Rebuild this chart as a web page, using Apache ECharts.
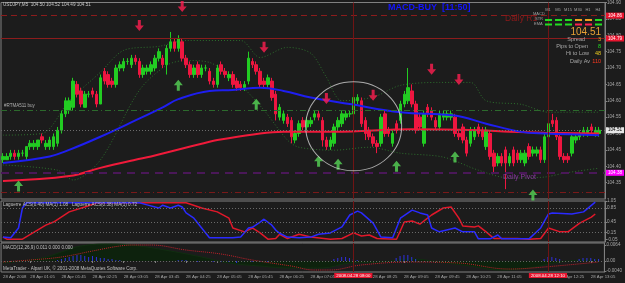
<!DOCTYPE html>
<html><head><meta charset="utf-8">
<script src="https://cdn.jsdelivr.net/npm/echarts@6/dist/echarts.min.js"></script>
<style>html,body{margin:0;padding:0;background:#1c1c1c}#c{width:625px;height:283px}</style>
</head><body><div id="c"></div>
<script>
// ---- DATA ----
// OHLC per 5-minute bar: [open, close, low, high]
const ohlc = [
[104.42,104.43,104.41,104.44],[104.42,104.43,104.42,104.44],[104.43,104.44,104.42,104.45],[104.44,104.43,104.42,104.45],
[104.43,104.44,104.42,104.45],[104.44,104.44,104.43,104.45],[104.43,104.46,104.42,104.46],[104.46,104.47,104.45,104.48],
[104.46,104.47,104.45,104.48],[104.46,104.48,104.45,104.48],[104.49,104.48,104.47,104.50],[104.46,104.47,104.45,104.48],
[104.46,104.48,104.45,104.49],[104.46,104.49,104.45,104.50],[104.47,104.51,104.46,104.52],[104.51,104.56,104.50,104.57],
[104.56,104.60,104.55,104.61],[104.57,104.60,104.56,104.61],[104.58,104.66,104.57,104.67],[104.65,104.62,104.61,104.66],
[104.63,104.59,104.58,104.64],[104.58,104.62,104.58,104.63],[104.62,104.62,104.61,104.63],[104.63,104.62,104.61,104.64],
[104.62,104.59,104.58,104.63],[104.59,104.67,104.59,104.68],[104.69,104.66,104.65,104.70],[104.68,104.65,104.64,104.69],
[104.66,104.65,104.64,104.67],[104.65,104.70,104.64,104.71],[104.70,104.71,104.69,104.72],[104.70,104.72,104.69,104.73],
[104.72,104.72,104.71,104.73],[104.71,104.73,104.70,104.74],[104.73,104.72,104.71,104.74],[104.72,104.68,104.67,104.73],
[104.68,104.70,104.67,104.71],[104.69,104.70,104.68,104.71],[104.69,104.71,104.68,104.72],[104.70,104.73,104.69,104.74],
[104.73,104.75,104.72,104.76],[104.73,104.71,104.70,104.74],[104.71,104.76,104.68,104.77],[104.76,104.78,104.75,104.81],
[104.78,104.76,104.75,104.79],[104.76,104.79,104.75,104.80],[104.78,104.73,104.72,104.79],[104.73,104.71,104.70,104.74],
[104.71,104.68,104.67,104.72],[104.68,104.70,104.67,104.71],[104.71,104.68,104.67,104.72],[104.68,104.70,104.67,104.71],
[104.70,104.70,104.69,104.71],[104.69,104.66,104.65,104.70],[104.66,104.65,104.64,104.67],[104.65,104.70,104.64,104.71],
[104.71,104.69,104.68,104.72],[104.69,104.68,104.67,104.70],[104.67,104.68,104.66,104.69],[104.68,104.65,104.64,104.69],
[104.66,104.64,104.63,104.67],[104.65,104.64,104.63,104.66],[104.64,104.65,104.63,104.66],[104.66,104.73,104.65,104.75],
[104.72,104.71,104.70,104.73],[104.71,104.69,104.68,104.72],[104.69,104.65,104.64,104.70],[104.66,104.65,104.64,104.67],
[104.65,104.67,104.64,104.68],[104.66,104.61,104.60,104.67],[104.62,104.56,104.54,104.63],[104.55,104.58,104.54,104.59],
[104.54,104.56,104.53,104.57],[104.55,104.53,104.52,104.56],[104.54,104.49,104.47,104.55],[104.48,104.50,104.47,104.51],
[104.50,104.53,104.49,104.54],[104.54,104.52,104.51,104.55],[104.52,104.54,104.51,104.55],[104.53,104.54,104.52,104.55],
[104.55,104.56,104.54,104.57],[104.56,104.55,104.54,104.57],[104.54,104.48,104.46,104.55],[104.48,104.46,104.45,104.49],
[104.46,104.48,104.45,104.49],[104.47,104.52,104.46,104.53],[104.52,104.54,104.51,104.55],[104.53,104.56,104.52,104.57],
[104.55,104.56,104.54,104.57],[104.56,104.56,104.55,104.57],[104.56,104.61,104.55,104.62],[104.60,104.61,104.59,104.62],
[104.60,104.53,104.52,104.61],[104.54,104.50,104.48,104.55],[104.51,104.49,104.48,104.52],[104.49,104.47,104.46,104.50],
[104.47,104.46,104.44,104.48],[104.47,104.55,104.46,104.56],[104.56,104.50,104.49,104.57],[104.51,104.50,104.49,104.52],
[104.47,104.50,104.46,104.51],[104.53,104.51,104.50,104.54],[104.54,104.59,104.53,104.60],[104.59,104.62,104.58,104.63],
[104.60,104.64,104.59,104.70],[104.63,104.59,104.58,104.65],[104.59,104.51,104.50,104.60],[104.55,104.52,104.51,104.56],
[104.47,104.56,104.46,104.57],[104.58,104.56,104.55,104.59],[104.57,104.55,104.54,104.58],[104.54,104.52,104.51,104.55],
[104.52,104.56,104.51,104.57],[104.55,104.56,104.54,104.57],[104.55,104.56,104.54,104.57],[104.55,104.56,104.54,104.57],
[104.55,104.50,104.49,104.56],[104.50,104.49,104.48,104.51],[104.52,104.48,104.47,104.53],[104.48,104.44,104.43,104.49],
[104.47,104.51,104.46,104.52],[104.49,104.51,104.48,104.52],[104.52,104.50,104.49,104.53],[104.51,104.49,104.48,104.52],
[104.46,104.51,104.45,104.52],[104.50,104.43,104.42,104.51],[104.44,104.40,104.38,104.45],[104.41,104.43,104.40,104.44],
[104.43,104.41,104.40,104.44],[104.45,104.41,104.33,104.46],[104.41,104.43,104.40,104.44],[104.45,104.41,104.40,104.46],
[104.44,104.42,104.41,104.45],[104.42,104.44,104.41,104.45],[104.41,104.44,104.40,104.45],[104.46,104.43,104.42,104.47],
[104.44,104.45,104.43,104.46],[104.44,104.45,104.43,104.46],[104.45,104.42,104.41,104.46],[104.42,104.49,104.41,104.50],
[104.49,104.53,104.48,104.55],[104.54,104.53,104.52,104.56],[104.54,104.49,104.48,104.55],[104.49,104.43,104.42,104.50],
[104.43,104.42,104.41,104.44],[104.43,104.42,104.41,104.44],[104.44,104.49,104.43,104.50],[104.48,104.49,104.47,104.50],
[104.49,104.50,104.48,104.51],[104.50,104.51,104.49,104.52],[104.50,104.51,104.49,104.52],[104.52,104.51,104.50,104.53],
[104.50,104.51,104.49,104.52],[104.50,104.51,104.49,104.52]
];
// moving averages [barIndex, price]
const maBlue = [[0,104.41],[12,104.43],[17,104.45],[25,104.49],[34,104.54],[41,104.58],[45,104.605],[53,104.63],[59,104.633],[66,104.64],[72,104.63],[79,104.61],[89,104.59],[102,104.565],[116,104.555],[124,104.53],[133,104.505],[139,104.50],[153,104.495]];
const maRed = [[0,104.355],[17,104.37],[25,104.395],[34,104.42],[38,104.43],[53,104.475],[55,104.48],[66,104.50],[72,104.505],[85,104.505],[105,104.513],[122,104.51],[130,104.505],[139,104.502],[153,104.50]];
const bandUpper = [[0,104.495],[10,104.50],[17,104.60],[25,104.687],[31,104.754],[40,104.766],[47,104.784],[61,104.784],[66,104.732],[73,104.763],[79,104.745],[83,104.672],[87,104.60],[95,104.611],[102,104.647],[112,104.656],[120,104.656],[124,104.60],[133,104.589],[140,104.565],[153,104.565]];
const bandLower = [[0,104.404],[14,104.388],[18,104.358],[25,104.419],[35,104.632],[42,104.708],[47,104.723],[53,104.717],[61,104.647],[67,104.571],[73,104.48],[76,104.458],[85,104.449],[94,104.458],[102,104.44],[113,104.428],[122,104.388],[130,104.364],[139,104.367],[144,104.379],[153,104.394]];
const sellArrows = [[35,104.83],[46,104.888],[67,104.763],[83,104.607],[95,104.617],[110,104.696],[117,104.665]];
const buyArrows = [[4,104.34],[45,104.647],[65,104.589],[81,104.415],[86,104.406],[101,104.40],[116,104.428],[136,104.312]];
const circleMark = [[90,104.522]];
const priceLevels = {r1:104.86, res:104.79, rtma:104.57, bid:104.51, pivot:104.38, s1:104.32};
// Laguerre panel
const lagBlue = [[0,0.02],[2,0],[4,0.28],[5,0.85],[6,1],[35,1],[37,0.94],[40,0.85],[41,0.93],[43,0.85],[45,0.93],[46,0.88],[47,0.71],[49,0.56],[51,0.28],[53,0],[59,0],[61,0.02],[63,0.28],[64,0.3],[66,0.45],[67,0.53],[69,0.36],[70,0.22],[71,0.13],[73,0.02],[76,0],[79,0.02],[81,0.1],[84,0.14],[87,0.31],[89,0.65],[91,0.76],[92,0.71],[95,0.42],[97,0.02],[100,0],[102,0.56],[105,0.79],[107,0.71],[109,0.65],[110,0.28],[112,0.17],[116,0.28],[118,0.17],[121,0.17],[122,-0.03],[125,-0.03],[127,0.08],[128,-0.03],[135,-0.03],[138,0.28],[140,0.68],[141,0.71],[146,0.68],[149,0.74],[152,1.02]];
const lagRed = [[0,0.02],[1,-0.04],[5,-0.04],[8,0.16],[11,0.36],[13,0.45],[17,0.74],[21,0.88],[24,0.99],[26,1],[47,1],[51,0.85],[55,0.74],[58,0.56],[59,0.28],[62,0.17],[64,0.28],[66,0.14],[68,-0.04],[70,-0.02],[71,0.1],[73,-0.02],[76,0.1],[79,0.02],[84,-0.04],[87,-0.02],[90,0.14],[92,0.05],[94,0.08],[96,-0.02],[101,-0.04],[103,0.45],[105,0.48],[107,0.39],[110,0.65],[113,0.85],[115,0.88],[117,0.56],[118,0.34],[121,0.31],[122,0.34],[124,0.17],[126,-0.02],[129,-0.02],[132,-0.02],[135,-0.04],[138,-0.02],[140,0.28],[143,0.17],[145,0.17],[148,0.42],[151,0.59],[152,0.68]];
const lagLevels = [0.85,0.45,0.15];
const lagTicks = [-0.05,0.15,0.45,0.85,1.05];
// MACD panel
const macdMain = [[0,-0.0008],[10,0.0012],[15,0.0036],[20,0.006],[28,0.0068],[35,0.006],[43,0.004],[51,0.0016],[58,-0.0008],[66,-0.002],[74,-0.0028],[82,-0.0028],[89,-0.0008],[97,-0.0004],[105,0.0008],[112,-0.0004],[120,-0.002],[128,-0.0036],[135,-0.0028],[143,-0.0004],[151,0.0004],[153,0.0004]];
const macdSignal = [[0,-0.0004],[7,0.0004],[15,0.0016],[23,0.004],[30,0.006],[34,0.0064],[38,0.0064],[47,0.0044],[56,0.0028],[64,0.0004],[74,-0.002],[80,-0.0036],[84,-0.0036],[92,-0.0016],[105,-0.0004],[117,-0.0008],[130,-0.0032],[139,-0.0024],[153,-0.0004]];
const macdBars = [[14,0.0004],[15,0.0008],[16,0.0012],[17,0.0016],[18,0.002],[19,0.0024],[20,0.0024],[21,0.002],[22,0.0016],[23,0.002],[24,0.0016],[25,0.0012],[26,0.0012],[27,0.0008],[28,0.0008],[29,0.0004],[30,0.0004],[45,0.0004],[46,0.0004],[47,0.0004],[50,-0.0004],[52,-0.0004],[54,-0.0004],[56,-0.0004],[58,-0.0004],[60,-0.0008],[62,-0.0004],[64,-0.0004],[66,-0.0004],[68,-0.0004],[85,0.0008],[86,0.0012],[87,0.0016],[88,0.0016],[89,0.0012],[90,0.0008],[91,0.0004],[101,0.0012],[102,0.002],[103,0.0024],[104,0.0024],[105,0.0016],[106,0.0008],[139,0.0008],[140,0.0016],[141,0.0016],[142,0.0012],[143,0.0008],[148,0.0008],[149,0.0012],[150,0.0012],[151,0.0012],[152,0.0008],[153,0.0008]];
const macdTicks = [-0.004,0,0.0064];
// time axis
const nCats = 155;
const categories = [];
for (let i = 0; i < nCats; i++) { const m = 30 + 5 * i; categories.push(String(Math.floor(m / 60)).padStart(2, '0') + ':' + String(m % 60).padStart(2, '0')); }
const tickIdx = [0,7,15,23,31,39,47,55,63,71,79,95,103,111,119,127,143,151];
const tickText = ['28 Apr 2008','28 Apr 01:05','28 Apr 01:45','28 Apr 02:25','28 Apr 03:05','28 Apr 03:45','28 Apr 04:25','28 Apr 05:05','28 Apr 05:45','28 Apr 06:25','28 Apr 07:05','28 Apr 08:25','28 Apr 09:05','28 Apr 09:45','28 Apr 10:25','28 Apr 11:05','28 Apr 12:25','28 Apr 13:05'];
const vLines = [[90,'2008.04.28 08:00'],[140,'2008.04.28 12:10']];

// ---- CHART ----
const F = "'Liberation Sans',Arial,sans-serif";
const chart = echarts.init(document.getElementById('c'), null, {renderer:'canvas'});
const gridCommon = {left:1, width:604, show:true, borderColor:'#808080', borderWidth:1, backgroundColor:'transparent'};
const xCommon = (gi, showLab) => ({type:'category', gridIndex:gi, data:categories, boundaryGap:true,
  axisLine:{show:false}, splitLine:{show:false},
  axisTick:{show:showLab, interval:(i)=>tickIdx.includes(i), length:2, lineStyle:{color:'#808080'}, alignWithLabel:true},
  axisLabel:{show:showLab, interval:(i)=>tickIdx.includes(i), formatter:(v,i)=>{const k=tickIdx.indexOf(i);return k>=0?tickText[k]:'';}, align:'left', fontSize:4.3, color:'#a8a8a8', fontFamily:F, margin:3}});
const yLab = {fontSize:4.6, color:'#a8a8a8', fontFamily:F, margin:2};
const box = (t,bg,fg) => ({show:true, position:'end', distance:1, formatter:t, backgroundColor:bg, color:fg, fontSize:4.6, fontFamily:F, padding:[1,2,0,2]});
const vml = (withLabel) => vLines.map(v => ({xAxis:categories[v[0]], lineStyle:{color:'#701414', type:'solid', width:1},
  label: withLabel ? {show:true, position:'start', distance:1, formatter:v[1], backgroundColor:'#e8142e', color:'#fff', fontSize:4.4, fontFamily:F, padding:[1,2,0,2]} : {show:false}}));
const downArrow = 'path://M3,0 L6,0 L6,5 L9,5 L4.5,10 L0,5 L3,5 Z';
const upArrow = 'path://M4.5,0 L9,5 L6,5 L6,10 L3,10 L3,5 L0,5 Z';

const T = (text,x,y,size,fill,align,weight) => ({type:'text', x:x, y:y, silent:true, z:100,
  style:{text:text, font:(weight||'normal')+' '+size+'px '+F, fill:fill, textAlign:align||'left', textVerticalAlign:'middle'}});
const dashColors = [['#22dd22','#22dd22','#22dd22','#f0a020','#f0a020','#22dd22'],['#22dd22','#22dd22','#22dd22','#ff2050','#ff2050','#22dd22']];
const tfNames = ['M1','M5','M15','M30','H1','H4'];
const graphics = [
  T('USDJPY,M5  104.50 104.52 104.49 104.51',3,5,4.6,'#c8c8c8'),
  T('MACD-BUY  [11:50]',388,8,9,'#1515ff','left','bold'),
  T('Daily R1',505,19,8.5,'#8e1a1a'),
  T('MACD',533,14,4,'#a0a0a0'), T('STR',535,19,4,'#a0a0a0'), T('EMA',534,24,4,'#a0a0a0'),
  T('104.51',601,32,10,'#e9a235','right'),
  T('Spread',585,39,5.5,'#a8a8a8','right'), T('3',601,39,5.5,'#e8b020','right'),
  T('Pips to Open',588,46,5.5,'#a8a8a8','right'), T('8',601,46,5.5,'#22dd22','right'),
  T('Hi to Low',589,53,5.5,'#a8a8a8','right'), T('48',601,53,5.5,'#e8c820','right'),
  T('Daily Av',590,61,5.5,'#a8a8a8','right'), T('110',601,61,5.5,'#ff3a20','right'),
  T('#RTMA511 buy',4,106,4.5,'#b0b0b0'),
  T('Daily Pivot',503,177,7,'#8a36a0'),
  T('Laguerre ACS(0.40) MA(1) 1.08   Laguerre ACS(0.38) MA(1) 0.72',3,205,4.6,'#c0c0c0'),
  T('MACD(12,26,9) 0.011 0.000 0.000',3,248,4.6,'#c0c0c0'),
  T('MetaTrader - Alpari UK, \u00a9 2001-2008 MetaQuotes Software Corp.',3,269,4.6,'#c0c0c0')
];
tfNames.forEach((n,k)=>graphics.push(T(n,548+10*k,10,4,'#a0a0a0','center')));
dashColors.forEach((row,r)=>row.forEach((c,k)=>graphics.push({type:'rect', silent:true, z:100, shape:{x:545+10*k, y:19+4.5*r, width:7, height:2}, style:{fill:c}})));

const option = {
  backgroundColor:'#1c1c1c', animation:false,
  grid:[Object.assign({top:2, height:197}, gridCommon), Object.assign({top:201, height:41}, gridCommon), Object.assign({top:243, height:29}, gridCommon)],
  xAxis:[xCommon(0,false), xCommon(1,false), xCommon(2,true)],
  yAxis:[
    {type:'value', gridIndex:0, position:'right', min:104.30, max:104.90, interval:0.05, splitLine:{show:false},
     axisLine:{show:true, lineStyle:{color:'#808080'}}, axisTick:{show:true, length:2, lineStyle:{color:'#808080'}},
     axisLabel:Object.assign({formatter:v=>v.toFixed(2), showMinLabel:false}, yLab)},
    {type:'value', gridIndex:1, position:'right', min:-0.12, max:1.05, splitLine:{show:false},
     axisLine:{show:true, lineStyle:{color:'#808080'}}, axisTick:{show:true, length:2, customValues:lagTicks, lineStyle:{color:'#808080'}},
     axisLabel:Object.assign({customValues:lagTicks, formatter:v=>v.toFixed(2)}, yLab)},
    {type:'value', gridIndex:2, position:'right', min:-0.0044, max:0.0072, splitLine:{show:false},
     axisLine:{show:true, lineStyle:{color:'#808080'}}, axisTick:{show:true, length:2, customValues:macdTicks, lineStyle:{color:'#808080'}},
     axisLabel:Object.assign({customValues:macdTicks, formatter:v=>Math.abs(v)<1e-9?'0.00':v.toFixed(4)}, yLab)}
  ],
  series:[
    {type:'line', xAxisIndex:0, yAxisIndex:0, data:bandUpper, symbol:'none', smooth:0.3, lineStyle:{color:'#2c6e2c', width:1, type:[1,2]}, z:1},
    {type:'line', xAxisIndex:0, yAxisIndex:0, data:bandLower, symbol:'none', smooth:0.3, lineStyle:{color:'#2c6e2c', width:1, type:[1,2]}, z:1},
    {type:'candlestick', xAxisIndex:0, yAxisIndex:0, data:ohlc, barWidth:3, z:3,
     itemStyle:{color:'#22cc22', color0:'#ee1640', borderColor:'#22cc22', borderColor0:'#ee1640', borderWidth:1},
     markLine:{silent:true, symbol:['none','none'], animation:false, data:[
       {yAxis:priceLevels.r1, lineStyle:{color:'#8c1c1c', type:[6,4], width:1}, label:box('104.86','#e8142e','#fff')},
       {yAxis:priceLevels.res, lineStyle:{color:'#8c1c1c', type:'solid', width:1}, label:box('104.79','#e8142e','#fff')},
       {yAxis:priceLevels.rtma, lineStyle:{color:'#2c6a2c', type:[6,3,1,3], width:1}, label:{show:false}},
       {yAxis:priceLevels.bid, lineStyle:{color:'#6c6c6c', type:[1,2], width:1}, label:box('104.51','#e6e6e6','#000')},
       {yAxis:priceLevels.pivot, lineStyle:{color:'#4a1858', type:[8,6], width:2}, label:box('104.38','#ff00ff','#fff')},
       {yAxis:priceLevels.s1, lineStyle:{color:'#7a1a1a', type:[6,3,1,3], width:1}, label:{show:false}}
     ].concat(vml(false))}},
    {type:'line', xAxisIndex:0, yAxisIndex:0, data:maRed, symbol:'none', smooth:0.4, lineStyle:{color:'#f01a3a', width:2}, z:4},
    {type:'line', xAxisIndex:0, yAxisIndex:0, data:maBlue, symbol:'none', smooth:0.4, lineStyle:{color:'#1e1ef0', width:2}, z:4},
    {type:'scatter', xAxisIndex:0, yAxisIndex:0, data:sellArrows, symbol:downArrow, symbolSize:[9,11], itemStyle:{color:'#ff1e50'}, z:5},
    {type:'scatter', xAxisIndex:0, yAxisIndex:0, data:buyArrows, symbol:upArrow, symbolSize:[9,11], itemStyle:{color:'#56d656'}, z:5},
    {type:'scatter', xAxisIndex:0, yAxisIndex:0, data:circleMark, symbol:'circle', symbolSize:[96,89], itemStyle:{color:'rgba(0,0,0,0)', borderColor:'#cfcfcf', borderWidth:1}, z:6},
    {type:'line', xAxisIndex:1, yAxisIndex:1, data:lagRed, symbol:'none', lineStyle:{color:'#e0182a', width:1.5}, z:3,
     markLine:{silent:true, symbol:['none','none'], animation:false, data:lagLevels.map(v=>({yAxis:v, lineStyle:{color:'#6a6a6a', type:[1,2], width:1}, label:{show:false}})).concat(vml(false))}},
    {type:'line', xAxisIndex:1, yAxisIndex:1, data:lagBlue, symbol:'none', lineStyle:{color:'#2a2aff', width:1.5}, z:4},
    {type:'line', xAxisIndex:2, yAxisIndex:2, data:macdMain, symbol:'none', smooth:0.4, lineStyle:{color:'#102e10', width:1}, areaStyle:{color:'#0d220d', opacity:1}, z:1},
    {type:'bar', xAxisIndex:2, yAxisIndex:2, data:macdBars, barWidth:1, itemStyle:{color:'#3030e0'}, z:2},
    {type:'line', xAxisIndex:2, yAxisIndex:2, data:macdSignal, symbol:'none', smooth:0.4, lineStyle:{color:'#c0202a', width:1, type:[1,1]}, z:3,
     markLine:{silent:true, symbol:['none','none'], animation:false, data:[{yAxis:0, lineStyle:{color:'#6a6a6a', type:[1,2], width:1}, label:{show:false}}].concat(vml(true))}}
  ],
  graphic: graphics
};
chart.setOption(option);
</script>
</body></html>
